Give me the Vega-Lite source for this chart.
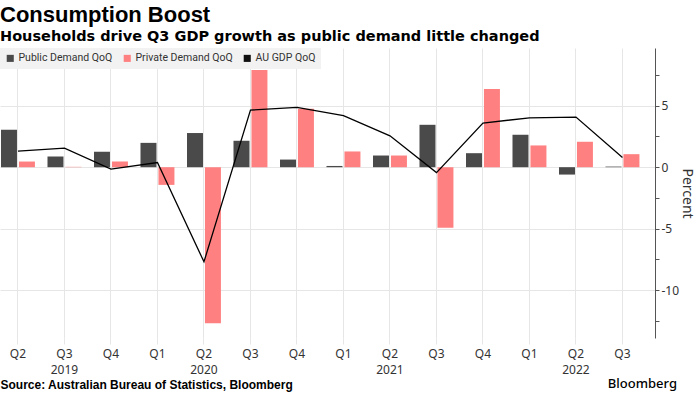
{
  "$schema": "https://vega.github.io/schema/vega-lite/v6.json",
  "width": 655,
  "height": 290,
  "autosize": {"type": "none"},
  "padding": {"left": 0, "top": 48, "right": 45, "bottom": 56},
  "background": "white",
  "config": {"view": {"stroke": null}},
  "title": {
    "text": "Consumption Boost",
    "subtitle": "Households drive Q3 GDP growth as public demand little changed",
    "anchor": "start",
    "frame": "group",
    "font": "Liberation Sans",
    "fontSize": 22,
    "fontWeight": "bold",
    "color": "#000",
    "subtitleFont": "DejaVu Sans",
    "subtitleFontSize": 14.5,
    "subtitleFontWeight": "bold",
    "subtitleColor": "#000",
    "subtitlePadding": 3,
    "offset": 4
  },
  "datasets": {
    "d": [
      {"q": "2019 Q2", "series": "Public Demand QoQ", "value": 3.05},
      {"q": "2019 Q3", "series": "Public Demand QoQ", "value": 0.87},
      {"q": "2019 Q4", "series": "Public Demand QoQ", "value": 1.25},
      {"q": "2020 Q1", "series": "Public Demand QoQ", "value": 1.98},
      {"q": "2020 Q2", "series": "Public Demand QoQ", "value": 2.78},
      {"q": "2020 Q3", "series": "Public Demand QoQ", "value": 2.15},
      {"q": "2020 Q4", "series": "Public Demand QoQ", "value": 0.62},
      {"q": "2021 Q1", "series": "Public Demand QoQ", "value": 0.1},
      {"q": "2021 Q2", "series": "Public Demand QoQ", "value": 0.95},
      {"q": "2021 Q3", "series": "Public Demand QoQ", "value": 3.45},
      {"q": "2021 Q4", "series": "Public Demand QoQ", "value": 1.14},
      {"q": "2022 Q1", "series": "Public Demand QoQ", "value": 2.64},
      {"q": "2022 Q2", "series": "Public Demand QoQ", "value": -0.6},
      {"q": "2022 Q3", "series": "Public Demand QoQ", "value": 0.05},
      {"q": "2019 Q2", "series": "Private Demand QoQ", "value": 0.46},
      {"q": "2019 Q3", "series": "Private Demand QoQ", "value": 0.03},
      {"q": "2019 Q4", "series": "Private Demand QoQ", "value": 0.46},
      {"q": "2020 Q1", "series": "Private Demand QoQ", "value": -1.44},
      {"q": "2020 Q2", "series": "Private Demand QoQ", "value": -12.7},
      {"q": "2020 Q3", "series": "Private Demand QoQ", "value": 7.9},
      {"q": "2020 Q4", "series": "Private Demand QoQ", "value": 4.75},
      {"q": "2021 Q1", "series": "Private Demand QoQ", "value": 1.28},
      {"q": "2021 Q2", "series": "Private Demand QoQ", "value": 0.95},
      {"q": "2021 Q3", "series": "Private Demand QoQ", "value": -4.93},
      {"q": "2021 Q4", "series": "Private Demand QoQ", "value": 6.37},
      {"q": "2022 Q1", "series": "Private Demand QoQ", "value": 1.77},
      {"q": "2022 Q2", "series": "Private Demand QoQ", "value": 2.07},
      {"q": "2022 Q3", "series": "Private Demand QoQ", "value": 1.06},
      {"q": "2019 Q2", "series": "AU GDP QoQ", "value": 1.3},
      {"q": "2019 Q3", "series": "AU GDP QoQ", "value": 1.55},
      {"q": "2019 Q4", "series": "AU GDP QoQ", "value": -0.16},
      {"q": "2020 Q1", "series": "AU GDP QoQ", "value": 0.38},
      {"q": "2020 Q2", "series": "AU GDP QoQ", "value": -7.7},
      {"q": "2020 Q3", "series": "AU GDP QoQ", "value": 4.65},
      {"q": "2020 Q4", "series": "AU GDP QoQ", "value": 4.87},
      {"q": "2021 Q1", "series": "AU GDP QoQ", "value": 4.2},
      {"q": "2021 Q2", "series": "AU GDP QoQ", "value": 2.55},
      {"q": "2021 Q3", "series": "AU GDP QoQ", "value": -0.44},
      {"q": "2021 Q4", "series": "AU GDP QoQ", "value": 3.59},
      {"q": "2022 Q1", "series": "AU GDP QoQ", "value": 4.02},
      {"q": "2022 Q2", "series": "AU GDP QoQ", "value": 4.08},
      {"q": "2022 Q3", "series": "AU GDP QoQ", "value": 0.78}
    ]
  },
  "encoding": {
    "x": {
      "field": "q",
      "type": "ordinal",
      "sort": null,
      "scale": {"paddingInner": 0.27, "paddingOuter": 0.178, "align": 0.06},
      "axis": {
        "title": "Source: Australian Bureau of Statistics, Bloomberg",
        "titleAnchor": "start",
        "titleAlign": "left",
        "titleFont": "Liberation Sans",
        "titleFontSize": 12,
        "titleFontWeight": "bold",
        "titleColor": "#000",
        "titlePadding": 4,
        "labelAngle": 0,
        "labelFont": "Noto Sans",
        "labelFontSize": 12,
        "labelColor": "#333",
        "labelLineHeight": 16,
        "labelPadding": 4,
        "labelExpr": "[split(datum.value, ' ')[1], indexof(['2019 Q3','2020 Q2','2021 Q2','2022 Q2'], datum.value) >= 0 ? split(datum.value, ' ')[0] : '']",
        "domain": false,
        "ticks": true,
        "tickColor": "#e6e6e6",
        "tickSize": 6,
        "grid": true,
        "gridColor": "#e6e6e6"
      }
    },
    "y": {
      "field": "value",
      "type": "quantitative",
      "scale": {"domain": [-13.9, 9.7], "nice": false, "zero": false},
      "axis": {
        "orient": "right",
        "title": "Percent",
        "titleAngle": 90,
        "titleFont": "Noto Sans",
        "titleFontSize": 14,
        "titleFontWeight": "normal",
        "titleColor": "#333",
        "titlePadding": 1,
        "values": [-12.5, -10, -7.5, -5, -2.5, 0, 2.5, 5, 7.5],
        "labelExpr": "datum.value % 5 == 0 ? '' + datum.value : ''",
        "labelFont": "Noto Sans",
        "labelFontSize": 12,
        "labelColor": "#333",
        "labelPadding": 2,
        "domainColor": "#555",
        "tickColor": "#555",
        "tickSize": 4,
        "grid": true,
        "gridColor": {"condition": {"test": "datum.value % 5 != 0", "value": "transparent"}, "value": "#e6e6e6"}
      }
    }
  },
  "layer": [
    {
      "data": {"name": "d"},
      "transform": [{"filter": "datum.series != 'AU GDP QoQ'"}],
      "mark": {"type": "bar"},
      "encoding": {
        "xOffset": {"field": "series", "type": "nominal", "sort": ["Public Demand QoQ", "Private Demand QoQ"], "scale": {"paddingInner": 0.11, "paddingOuter": 0}},
        "color": {
          "field": "series",
          "type": "nominal",
          "scale": {"domain": ["Public Demand QoQ", "Private Demand QoQ", "AU GDP QoQ"], "range": ["#4a4a4a", "#ff8080", "#111111"]},
          "legend": {
            "orient": "top-left",
            "direction": "horizontal",
            "title": null,
            "offset": 0,
            "fillColor": "#f2f2f2",
            "padding": 5,
            "symbolType": "square",
            "symbolSize": 50,
            "symbolStrokeWidth": 0,
            "labelFont": "Roboto",
            "labelFontSize": 10.5,
            "labelColor": "#333",
            "labelOffset": 3,
            "columnPadding": 9
          }
        }
      }
    },
    {
      "data": {"name": "d"},
      "transform": [{"filter": "datum.series == 'AU GDP QoQ'"}],
      "mark": {"type": "line", "color": "#000", "strokeWidth": 1.3},
      "encoding": {}
    },
    {
      "data": {"values": [{"t": "Bloomberg"}]},
      "mark": {"type": "text", "align": "right", "baseline": "alphabetic", "font": "Noto Sans", "fontSize": 13, "fontWeight": 500, "dx": 22, "dy": 50, "color": "#000"},
      "encoding": {
        "text": {"field": "t"},
        "x": {"value": "width"},
        "y": {"value": "height"}
      }
    }
  ]
}
